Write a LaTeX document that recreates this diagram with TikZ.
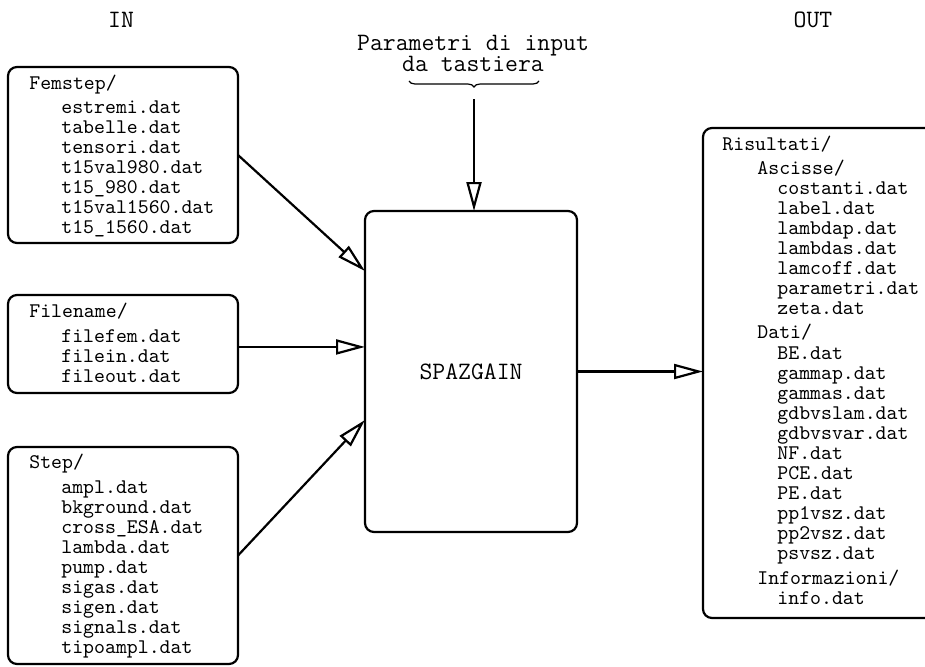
\documentclass[tikz,border=0pt]{standalone}
\usetikzlibrary{arrows.meta,calc,decorations.pathreplacing}
\begin{document}
\begin{tikzpicture}[x=0.5pt,y=-0.5pt,
  filebox/.style={draw, line width=1.1pt, rounded corners=4.5pt, inner sep=0pt, outer sep=0pt, anchor=north west},
  fl/.style={anchor=base west, inner sep=0pt, font=\ttfamily\fontsize{10.4}{12}\selectfont},
  big/.style={inner sep=0pt, font=\ttfamily\fontsize{12.5}{14}\selectfont},
  flow/.style={line width=1.1pt, -{Triangle[open, length=14.5pt, width=7.5pt]}},
  ]
\useasboundingbox (0,0) rectangle (925,666);

% column titles
\node[big, anchor=base] (in) at (121,27) {IN};
\node[big, anchor=base] (out) at (813,27) {OUT};

% boxes
\node[filebox, minimum width=115pt, minimum height=88pt] (fem) at (8,67) {};
\node[filebox, minimum width=115pt, minimum height=49pt] (fname) at (8,295) {};
\node[filebox, minimum width=115pt, minimum height=108.5pt] (step) at (8,447) {};
\node[filebox, minimum width=106pt, minimum height=160.5pt, font=\ttfamily\fontsize{12.5}{14}\selectfont] (spaz) at (365,211) {SPAZGAIN};
\node[filebox, minimum width=116pt, minimum height=245pt] (ris) at (703,128) {};

% Femstep
\node[fl] (femh) at (29,89) {Femstep/};
\foreach \t [count=\i] in {estremi.dat, tabelle.dat, tensori.dat, t15val980.dat, t15\_980.dat, t15val1560.dat, t15\_1560.dat}
  \node[fl] (fem\i) at (61,{93+20*\i}) {\t};

% Filename
\node[fl] (fnameh) at (29,317) {Filename/};
\foreach \t [count=\i] in {filefem.dat, filein.dat, fileout.dat}
  \node[fl] (fname\i) at (61,{322+20*\i}) {\t};

% Step
\node[fl] (steph) at (29,468) {Step/};
\foreach \t [count=\i] in {ampl.dat, bkground.dat, cross\_ESA.dat, lambda.dat, pump.dat, sigas.dat, sigen.dat, signals.dat, tipoampl.dat}
  \node[fl] (step\i) at (61,{473+20*\i}) {\t};

% Risultati
\node[fl] (rish) at (722,150) {Risultati/};
\node[fl] (asch) at (757,174) {Ascisse/};
\foreach \t [count=\i] in {costanti.dat, label.dat, lambdap.dat, lambdas.dat, lamcoff.dat, parametri.dat, zeta.dat}
  \node[fl] (asc\i) at (777,{174+20*\i}) {\t};
\node[fl] (dath) at (757,338) {Dati/};
\foreach \t [count=\i] in {BE.dat, gammap.dat, gammas.dat, gdbvslam.dat, gdbvsvar.dat, NF.dat, PCE.dat, PE.dat, pp1vsz.dat, pp2vsz.dat, psvsz.dat}
  \node[fl] (dat\i) at (777,{339+20*\i}) {\t};
\node[fl] (infh) at (757,584) {Informazioni/};
\node[fl] (inf1) at (777,604) {info.dat};

% keyboard parameters
\node[big, anchor=base] (par1) at (473,50) {Parametri di input};
\node[big, anchor=base] (par2) at (473,71) {da tastiera};
\coordinate (brl) at (409,81);
\coordinate (brr) at (539,81);
\draw[line width=0.6pt, decorate, decoration={brace, mirror, amplitude=3pt}] (brl) -- (brr);
\coordinate (kbd) at (474,99);

% connectors
\draw[flow] (fem.east) -- ($(spaz.north west)!0.187!(spaz.south west)$);
\coordinate (fstart) at ($(fname.north east)!0.53!(fname.south east)$);
\draw[flow] (fstart) -- (spaz.west |- fstart);
\draw[flow] (step.east) -- ($(spaz.north west)!0.651!(spaz.south west)$);
\draw[flow] (kbd) -- (kbd |- spaz.north);
\draw[flow] (spaz.east) -- (spaz.east -| ris.west);
\end{tikzpicture}
\end{document}
